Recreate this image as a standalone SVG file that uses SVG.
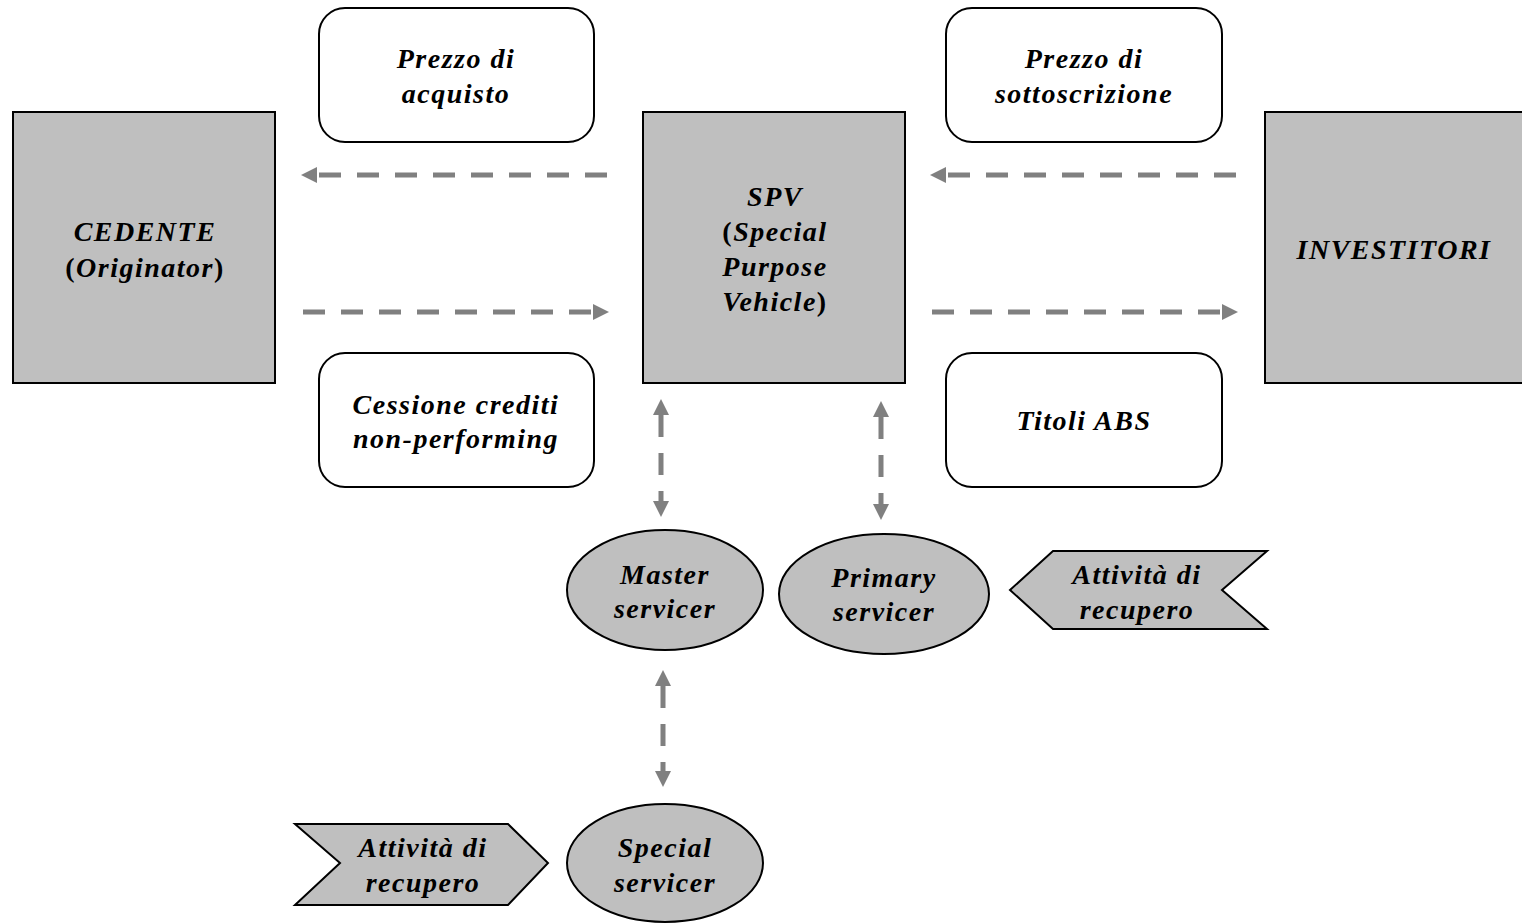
<svg xmlns="http://www.w3.org/2000/svg" width="1522" height="924" viewBox="0 0 1522 924">
<style>
.box{fill:#bfbfbf;stroke:#000;stroke-width:2}
.lbl{fill:#fff;stroke:#000;stroke-width:2}
.t{font-family:"Liberation Serif","Times New Roman",serif;font-size:28px;font-weight:bold;font-style:italic;letter-spacing:1.5px;fill:#000;text-anchor:middle}
.n{font-style:normal}
.c{stroke:#808080;stroke-width:5;stroke-dasharray:22 16;fill:none}
</style>
<defs>
<marker id="ah" markerUnits="userSpaceOnUse" markerWidth="16" markerHeight="16" refX="0" refY="7" orient="auto-start-reverse" viewBox="0 0 14 14">
<path d="M0,0 L14,7 L0,14 z" fill="#808080"/>
</marker>
</defs>
<rect width="1522" height="924" fill="#fff"/>
<g id="cedente">
<rect class="box" x="13" y="112" width="262" height="271"/>
<text class="t" x="145" y="241">CEDENTE</text>
<text class="t" x="145" y="277"><tspan class="n">(</tspan>Originator<tspan class="n">)</tspan></text>
</g>
<g id="spv">
<rect class="box" x="643" y="112" width="262" height="271"/>
<text class="t" x="775" y="206">SPV</text>
<text class="t" x="775" y="241"><tspan class="n">(</tspan>Special</text>
<text class="t" x="775" y="276">Purpose</text>
<text class="t" x="775" y="311">Vehicle<tspan class="n">)</tspan></text>
</g>
<g id="investitori">
<rect class="box" x="1265" y="112" width="262" height="271"/>
<text class="t" x="1394" y="259">INVESTITORI</text>
</g>
<g id="prezzo-acquisto">
<rect class="lbl" x="319" y="8" width="275" height="134" rx="26"/>
<text class="t" x="456" y="68">Prezzo di</text>
<text class="t" x="456" y="103">acquisto</text>
</g>
<g id="prezzo-sottoscrizione">
<rect class="lbl" x="946" y="8" width="276" height="134" rx="26"/>
<text class="t" x="1084" y="68">Prezzo di</text>
<text class="t" x="1084" y="103">sottoscrizione</text>
</g>
<g id="cessione">
<rect class="lbl" x="319" y="353" width="275" height="134" rx="26"/>
<text class="t" x="456" y="414">Cessione crediti</text>
<text class="t" x="456" y="448">non-performing</text>
</g>
<g id="titoli">
<rect class="lbl" x="946" y="353" width="276" height="134" rx="26"/>
<text class="t" x="1084" y="430">Titoli ABS</text>
</g>
<g id="master">
<ellipse class="box" cx="665" cy="590" rx="98" ry="60"/>
<text class="t" x="665" y="584">Master</text>
<text class="t" x="665" y="618">servicer</text>
</g>
<g id="primary">
<ellipse class="box" cx="884" cy="594" rx="105" ry="60"/>
<text class="t" x="884" y="587">Primary</text>
<text class="t" x="884" y="621">servicer</text>
</g>
<g id="special">
<ellipse class="box" cx="665" cy="863" rx="98" ry="59"/>
<text class="t" x="665" y="857">Special</text>
<text class="t" x="665" y="892">servicer</text>
</g>
<g id="recupero-right">
<polygon class="box" points="1053,551 1267,551 1222,590 1267,629 1053,629 1010,590"/>
<text class="t" x="1137" y="584">Attività di</text>
<text class="t" x="1137" y="619">recupero</text>
</g>
<g id="recupero-left">
<polygon class="box" points="295,824 508,824 548,863 508,905 295,905 340,863"/>
<text class="t" x="423" y="857">Attività di</text>
<text class="t" x="423" y="892">recupero</text>
</g>
<g id="connectors">
<line class="c" x1="607" y1="175" x2="317" y2="175" marker-end="url(#ah)"/>
<line class="c" x1="303" y1="312" x2="593" y2="312" marker-end="url(#ah)"/>
<line class="c" x1="1236" y1="175" x2="946" y2="175" marker-end="url(#ah)"/>
<line class="c" x1="932" y1="312" x2="1222" y2="312" marker-end="url(#ah)"/>
<line class="c" x1="661" y1="415" x2="661" y2="501" marker-start="url(#ah)" marker-end="url(#ah)"/>
<line class="c" x1="881" y1="417" x2="881" y2="504" marker-start="url(#ah)" marker-end="url(#ah)"/>
<line class="c" x1="663" y1="686" x2="663" y2="771" marker-start="url(#ah)" marker-end="url(#ah)"/>
</g>
</svg>
